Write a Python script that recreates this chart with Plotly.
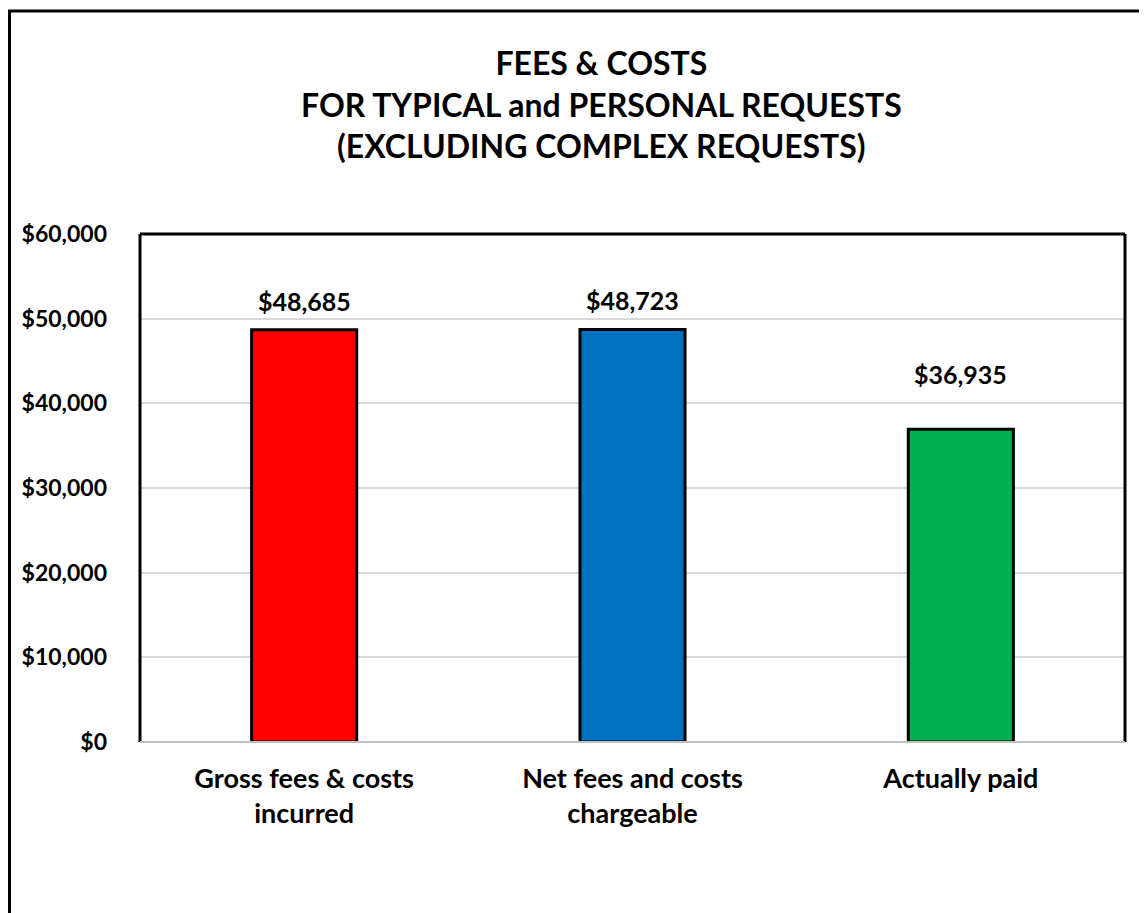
import plotly.graph_objects as go

categories = ["Gross fees & costs<br>incurred", "Net fees and costs<br>chargeable", "Actually paid"]
values = [48685, 48723, 36935]
colors = ["#FF0000", "#0070C0", "#00B050"]
label_shift = [12, 12, 38]
tick_vals = [0, 10000, 20000, 30000, 40000, 50000, 60000]
tick_text = ["$0", "$10,000", "$20,000", "$30,000", "$40,000", "$50,000", "$60,000"]

FONT = "Lato"
OFF = 8  # page body margin
W, H = 1147 - OFF, 913 - OFF
L, R, T, B = 140 - OFF, 22, 234 - OFF, 171
pw, ph = W - L - R, H - T - B

fig = go.Figure()
fig.add_trace(go.Bar(
    x=categories, y=values,
    marker=dict(color=colors, line=dict(color="black", width=3)),
    width=0.32, hoverinfo="skip",
))

for c, v, s in zip(categories, values, label_shift):
    fig.add_annotation(x=c, y=v, text="${:,}".format(v), showarrow=False,
                       yanchor="bottom", yshift=s,
                       font=dict(family=FONT, size=25, color="black", weight="bold"))

def px(xp):
    return (xp - OFF - L) / pw

def py(yp):
    return 1 - (yp - OFF - T) / ph

fig.add_annotation(
    xref="paper", yref="paper", x=px(601), y=py(104),
    text="FEES & COSTS<br>FOR TYPICAL and PERSONAL REQUESTS<br>(EXCLUDING COMPLEX REQUESTS)",
    showarrow=False, xanchor="center", yanchor="middle", align="center",
    font=dict(family=FONT, size=32, color="black", weight="bold"))

shapes = [
    dict(type="rect", xref="paper", yref="paper", x0=px(9.5), x1=px(1170), y0=py(11), y1=py(940),
         line=dict(color="black", width=3), layer="below"),
    dict(type="line", xref="paper", yref="paper", x0=0, x1=0, y0=0, y1=1, line=dict(color="black", width=3)),
    dict(type="line", xref="paper", yref="paper", x0=0, x1=1, y0=1, y1=1, line=dict(color="black", width=3)),
    dict(type="line", xref="paper", yref="paper", x0=1, x1=1, y0=0, y1=1, line=dict(color="black", width=3)),
    dict(type="line", xref="paper", yref="paper", x0=0, x1=1, y0=0, y1=0, line=dict(color="#BFBFBF", width=2)),
]

fig.update_layout(
    width=W, height=H,
    margin=dict(l=L, r=R, t=T, b=B, autoexpand=False),
    paper_bgcolor="white", plot_bgcolor="white",
    showlegend=False, shapes=shapes,
    font=dict(family=FONT, color="black"),
    xaxis=dict(showline=False, showgrid=False, ticks="", ticklabelstandoff=18,
               tickfont=dict(family=FONT, size=27, color="black", weight="bold")),
    yaxis=dict(range=[0, 60000], tickvals=tick_vals, ticktext=tick_text,
               showgrid=True, gridcolor="#D9D9D9", gridwidth=2, zeroline=False,
               showline=False, ticks="", ticklabelstandoff=32,
               tickfont=dict(family=FONT, size=23, color="black", weight="bold")),
)

fig.write_html("out.html")
